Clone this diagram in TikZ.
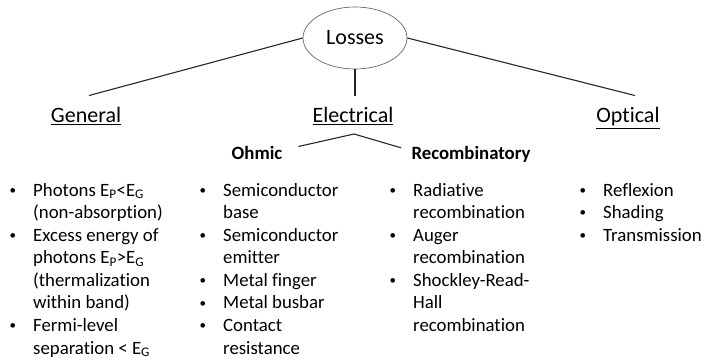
\documentclass[tikz,border=0pt]{standalone}
\usepackage{fontspec}
\setmainfont{Carlito}[Ligatures=NoCommon]
\usetikzlibrary{shapes.geometric}
\newcommand{\bul}{\makebox[26pt][l]{\hspace{2.5pt}\raisebox{1.8pt}{\fontsize{13}{13}\selectfont •}}}
\begin{document}
\begin{tikzpicture}[x=1pt,y=-1pt,
  line/.style={line width=1.1pt, black!85},
  headtext/.style={inner sep=0pt, font=\fontsize{22}{26}\selectfont, anchor=base},
  subhead/.style={inner sep=0pt, font=\fontsize{18.8}{22.6}\selectfont\bfseries, anchor=base},
  listbox/.style={inner sep=0pt, anchor=base west, align=left, font=\fontsize{18.8}{22.6}\selectfont},
  lossbox/.style={ellipse, draw=black!60, line width=0.7pt, minimum width=104pt, minimum height=62pt, inner sep=0pt, font=\fontsize{22}{26}\selectfont}
]
\useasboundingbox (0,0) rectangle (705,361);
\node[lossbox] (loss) at (355,38) {Losses};
\node[headtext] (gen) at (86,123) {\underline{General}};
\node[headtext] (elec) at (353,123) {\underline{Electrical}};
\node[headtext] (opt) at (628,123) {\underline{Optical}};
\node[subhead] (ohm) at (257,159) {Ohmic};
\node[subhead] (rec) at (471,159) {Recombinatory};
\coordinate (apex) at (354,134);
\draw[line] (loss.west) -- ([xshift=3pt,yshift=12pt]gen.north);
\draw[line] (loss.south) -- ([yshift=12pt]elec.north -| loss.south);
\draw[line] (loss.east) -- ([xshift=7pt,yshift=12pt]opt.north);
\draw[line] ([xshift=16pt,yshift=6pt]ohm.east) -- (apex) -- ([xshift=-10pt,yshift=6pt]rec.west);
\node[listbox] (l1) at (7,196) {\begin{tabular}[t]{@{}l@{}l@{}}
\bul & Photons E\textsubscript{P}<E\textsubscript{G}\\
 & (non-absorption)\\
\bul & Excess energy of\\
 & photons E\textsubscript{P}>E\textsubscript{G}\\
 & (thermalization\\
 & within band)\\
\bul & Fermi-level\\
 & separation < E\textsubscript{G}
\end{tabular}};
\node[listbox] (l2) at (197,196) {\begin{tabular}[t]{@{}l@{}l@{}}
\bul & Semiconductor\\
 & base\\
\bul & Semiconductor\\
 & emitter\\
\bul & Metal finger\\
\bul & Metal busbar\\
\bul & Contact\\
 & resistance
\end{tabular}};
\node[listbox] (l3) at (387,196) {\begin{tabular}[t]{@{}l@{}l@{}}
\bul & Radiative\\
 & recombination\\
\bul & Auger\\
 & recombination\\
\bul & Shockley-Read-\\
 & Hall\\
 & recombination
\end{tabular}};
\node[listbox] (l4) at (577,196) {\begin{tabular}[t]{@{}l@{}l@{}}
\bul & Reflexion\\
\bul & Shading\\
\bul & Transmission
\end{tabular}};
\end{tikzpicture}
\end{document}
